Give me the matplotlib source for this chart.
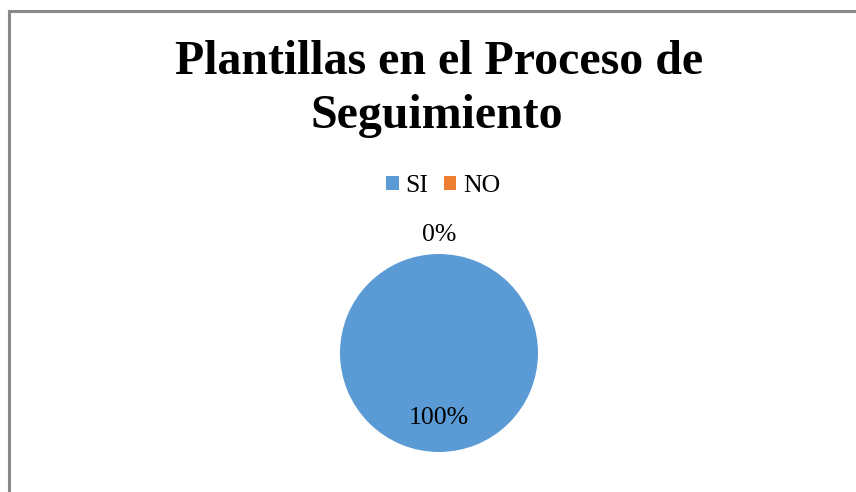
import matplotlib
matplotlib.use("Agg")
import matplotlib.pyplot as plt
from matplotlib.patches import Patch
from matplotlib.lines import Line2D
import numpy as np

# data
categories = ["SI", "NO"]
values = [100, 0]
pct_labels = ["100%", "0%"]
colors = ["#5B9BD5", "#ED7D31"]
title_lines = ["Plantillas en el Proceso de", "Seguimiento"]

W, H, DPI = 856, 492, 100
SERIF = "Liberation Serif"

fig = plt.figure(figsize=(W / DPI, H / DPI), dpi=DPI)
fig.set_facecolor("white")

# chart area border (top and left visible)
border = "#898989"
fig.add_artist(Line2D([8.5 / W, 1.0], [1 - 11 / H, 1 - 11 / H], color=border, lw=2.2,
                      transform=fig.transFigure))
fig.add_artist(Line2D([8.5 / W, 8.5 / W], [0, 1 - 11 / H], color=border, lw=2.2,
                      transform=fig.transFigure))

# title
fig.text(439 / W, 1 - 74 / H, title_lines[0], ha="center", va="baseline",
         fontsize=34.5, fontweight="bold", family=SERIF)
fig.text(437 / W, 1 - 128 / H, title_lines[1], ha="center", va="baseline",
         fontsize=34.5, fontweight="bold", family=SERIF)

# legend
handles = [Patch(facecolor=c, edgecolor="none") for c in colors]
fig.legend(handles, categories, loc="center", bbox_to_anchor=(443 / W, 1 - 186 / H),
           ncol=2, frameon=False, prop={"family": SERIF, "size": 18.5},
           handlelength=0.5, handleheight=0.45, handletextpad=0.25, columnspacing=0.6)

# pie
cx, cy, r = 439, 353, 99
ax = fig.add_axes([(cx - r) / W, (H - cy - r) / H, 2 * r / W, 2 * r / H])
wedges, _ = ax.pie(values, colors=colors, startangle=90, counterclock=False,
                   wedgeprops={"linewidth": 0})
ax.set_xlim(-1, 1)
ax.set_ylim(-1, 1)
ax.set_aspect("equal")
ax.axis("off")

dists = [0.655, 1.19]
for w, lab, d in zip(wedges, pct_labels, dists):
    ang = np.deg2rad((w.theta1 + w.theta2) / 2)
    ax.text(d * np.cos(ang), d * np.sin(ang), lab, ha="center", va="center",
            fontsize=18.5, family=SERIF, clip_on=False)

fig.savefig("out.png", dpi=DPI, facecolor="white")
